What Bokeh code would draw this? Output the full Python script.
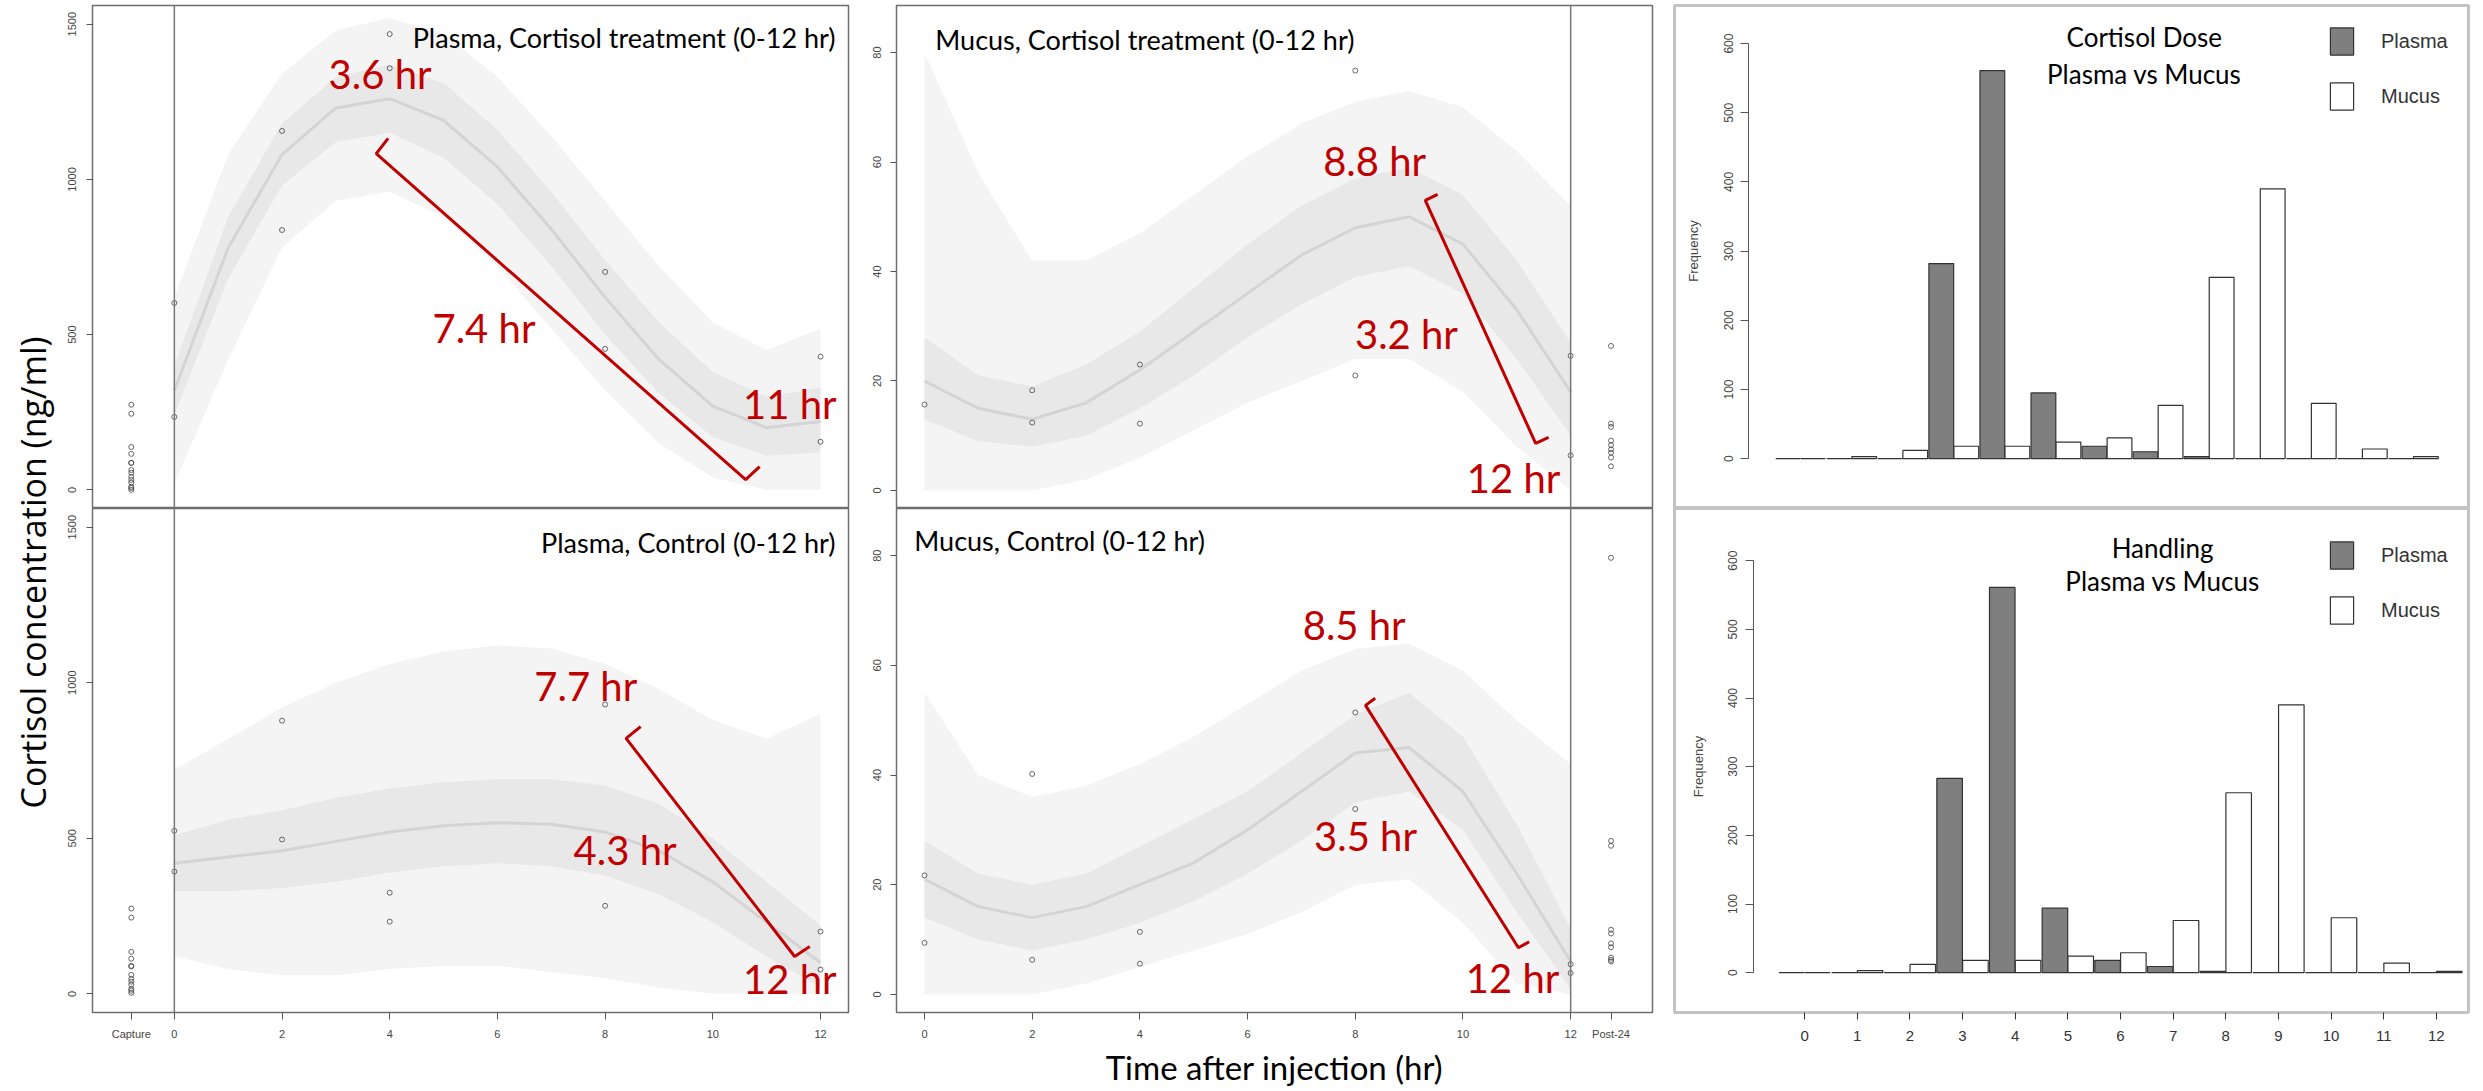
import numpy as np
from bokeh.plotting import figure
from bokeh.layouts import row, column
from bokeh.models import FixedTicker, Span, Title, Legend, LegendItem, Range1d
from bokeh.core.properties import value
from bokeh.embed import file_html
from bokeh.resources import INLINE

# ------------------------------------------------------------------ data
hours = [0, 1, 2, 3, 4, 5, 6, 7, 8, 9, 10, 11, 12]

# Plasma, cortisol treatment: cloud of fitted curves
pc_center = [320, 780, 1080, 1230, 1260, 1190, 1040, 840, 620, 420, 270, 200, 220]
pc_in_lo = [240, 680, 980, 1120, 1150, 1070, 920, 720, 500, 310, 170, 110, 120]
pc_in_hi = [400, 880, 1180, 1330, 1370, 1310, 1160, 960, 740, 540, 380, 300, 330]
pc_out_lo = [20, 420, 780, 930, 960, 880, 720, 520, 320, 150, 40, 0, 0]
pc_out_hi = [620, 1080, 1340, 1480, 1520, 1470, 1330, 1140, 930, 720, 540, 450, 520]

# Plasma, control
pk_center = [420, 440, 460, 490, 520, 540, 550, 545, 520, 460, 360, 230, 100]
pk_in_lo = [330, 330, 340, 360, 390, 410, 420, 410, 380, 320, 230, 120, 20]
pk_in_hi = [510, 560, 590, 630, 660, 680, 690, 690, 670, 610, 500, 360, 220]
pk_out_lo = [120, 80, 60, 60, 80, 90, 90, 70, 50, 20, 0, 0, 0]
pk_out_hi = [720, 820, 920, 1000, 1060, 1100, 1120, 1110, 1060, 980, 880, 820, 900]

# Mucus, cortisol treatment
mc_center = [20, 15, 13, 16, 22, 29, 36, 43, 48, 50, 45, 33, 18]
mc_in_lo = [13, 9, 8, 10, 15, 21, 28, 34, 39, 41, 36, 24, 10]
mc_in_hi = [28, 21, 19, 23, 29, 37, 45, 52, 57, 59, 54, 42, 27]
mc_out_lo = [0, 0, 0, 2, 6, 11, 16, 20, 24, 24, 18, 8, 0]
mc_out_hi = [80, 58, 42, 42, 47, 54, 61, 67, 71, 73, 70, 62, 52]

# Mucus, control
mk_center = [21, 16, 14, 16, 20, 24, 30, 37, 44, 45, 37, 22, 6]
mk_in_lo = [14, 10, 8, 10, 13, 17, 22, 28, 35, 37, 30, 15, 1]
mk_in_hi = [28, 22, 20, 22, 27, 32, 37, 44, 51, 55, 47, 31, 12]
mk_out_lo = [0, 0, 0, 2, 5, 8, 11, 15, 20, 21, 13, 2, 0]
mk_out_hi = [55, 40, 36, 38, 42, 47, 53, 59, 63, 64, 59, 50, 42]

# observed samples
capture_x = -0.8
post24_x = 12.75
pc_capture = [274, 245, 138, 116, 87, 87, 64, 55, 42, 32, 23, 10, 6, 0]
pc_t = [0, 0, 2, 2, 4, 4, 8, 8, 12, 12]
pc_obs = [602, 235, 1156, 837, 1468, 1358, 702, 454, 429, 155]
pk_capture = [274, 245, 135, 113, 90, 88, 61, 48, 39, 29, 16, 10, 3]
pk_t = [0, 0, 2, 2, 4, 4, 8, 8, 12, 12]
pk_obs = [524, 393, 878, 496, 325, 232, 930, 283, 200, 78]
mc_t = [0, 2, 2, 4, 4, 8, 8, 12, 12]
mc_obs = [15.7, 18.3, 12.4, 23.0, 12.2, 76.7, 21.0, 24.6, 6.4]
mc_post = [26.4, 12.2, 11.6, 9.1, 8.3, 7.5, 6.9, 6.0, 4.4]
mk_t = [0, 0, 2, 2, 4, 4, 8, 8, 12, 12]
mk_obs = [21.7, 9.4, 40.2, 6.3, 11.4, 5.6, 51.4, 33.8, 5.5, 3.9]
mk_post = [79.6, 28.0, 27.1, 11.8, 11.1, 9.3, 8.6, 6.7, 6.3, 6.0]

# axes
left_ticks = [-0.8, 0, 2, 4, 6, 8, 10, 12]
left_tick_labels = ["Capture", "0", "2", "4", "6", "8", "10", "12"]
mid_ticks = [0, 2, 4, 6, 8, 10, 12, 12.75]
mid_tick_labels = ["0", "2", "4", "6", "8", "10", "12", "Post-24"]
plasma_y_ticks = [0, 500, 1000, 1500]
mucus_y_ticks = [0, 20, 40, 60, 80]
freq_ticks = [0, 100, 200, 300, 400, 500, 600]

# histograms of peak / half-life times
hist_groups = [0, 1, 2, 3, 4, 5, 6, 7, 8, 9, 10, 11, 12]
dose_plasma = [0, 0, 0, 282, 561, 95, 18, 10, 3, 0, 0, 0, 0]
dose_mucus = [0, 3, 12, 18, 18, 24, 30, 77, 262, 390, 80, 14, 3]
hand_plasma = [0, 0, 0, 283, 561, 94, 18, 9, 2, 0, 0, 0, 0]
hand_mucus = [0, 3, 12, 18, 18, 24, 29, 76, 262, 390, 80, 14, 2]

# ------------------------------------------------------------------ styles
RED = "#c00000"
FRAME = "#6e6e6e"
CLOUD_OUT = "#f4f4f4"
CLOUD_IN = "#e8e8e8"
CLOUD_CORE = "#d4d4d4"
TXT_FONT = "Lato"
TICK_FONT = "Liberation Sans"


def panel(width, height, xr, yr, ml, mr, mt, mb, show_x):
    p = figure(width=width, height=height, x_range=Range1d(*xr), y_range=Range1d(*yr),
               output_backend="svg", toolbar_location=None, title=None,
               x_axis_location="below" if show_x else None, y_axis_location="left",
               min_border_left=ml, min_border_right=mr, min_border_top=mt, min_border_bottom=mb)
    p.grid.visible = False
    p.outline_line_color = FRAME
    p.outline_line_width = 1.5
    p.background_fill_color = "white"
    p.border_fill_color = "white"
    return p


def style_axis(ax, ticks, labels=None, size="11px", standoff=10, tick_out=6, vertical=False):
    ax.ticker = FixedTicker(ticks=ticks)
    if labels is not None:
        ax.major_label_overrides = {t: l for t, l in zip(ticks, labels)}
    if vertical:
        ax.major_label_orientation = "vertical"
    ax.axis_line_color = None
    ax.major_tick_line_color = "#555555"
    ax.major_tick_line_width = 1
    ax.major_tick_out = tick_out
    ax.major_tick_in = 0
    ax.minor_tick_line_color = None
    ax.major_label_text_font = TICK_FONT
    ax.major_label_text_font_size = size
    ax.major_label_text_color = "#444444"
    ax.major_label_standoff = standoff


def cloud(p, lo_o, hi_o, lo_i, hi_i, center):
    p.varea(x=hours, y1=lo_o, y2=hi_o, fill_color=CLOUD_OUT)
    p.varea(x=hours, y1=lo_i, y2=hi_i, fill_color=CLOUD_IN)
    p.line(x=hours, y=center, line_color=CLOUD_CORE, line_width=3)


def points(p, xs, ys):
    p.scatter(x=xs, y=ys, marker="circle", size=5, fill_color=None,
              line_color="#444444", line_width=0.8)


def bracket(p, xs, ys):
    p.line(x=xs, y=ys, line_color=RED, line_width=3)


def red_text(p, xs, ys, texts, size="40px"):
    p.text(x=xs, y=ys, text=texts, text_font=value(TXT_FONT), text_font_size=size,
           text_color=RED, text_align="center", text_baseline="middle")


def title_text(p, x, y, t, align):
    p.text(x=[x], y=[y], text=[t], text_font=value(TXT_FONT), text_font_size="27px",
           text_color="black", text_align=align, text_baseline="middle")


LEFT_X = (-1.52, 12.52)
LEFT_Y = (-60, 1560)
MID_X = (-0.52, 13.52)
MID_Y = (-3.3, 88.6)

# ------------------------------------------------------------------ A: plasma cortisol
pA = panel(805, 508, LEFT_X, LEFT_Y, 37, 12, 5, 0, False)
style_axis(pA.yaxis[0], plasma_y_ticks, vertical=True)
cloud(pA, pc_out_lo, pc_out_hi, pc_in_lo, pc_in_hi, pc_center)
pA.add_layout(Span(location=0, dimension="height", line_color="#777777", line_width=1.5))
points(pA, [capture_x] * len(pc_capture), pc_capture)
points(pA, pc_t, pc_obs)
bracket(pA, [3.97, 3.75, 10.61, 10.87], [1132, 1083, 33, 75])
red_text(pA, [3.82, 5.75, 11.43], [1338, 520, 278], ["3.6 hr", "7.4 hr", "11 hr"])
title_text(pA, 12.28, 1457, "Plasma, Cortisol treatment (0-12 hr)", "right")

# ------------------------------------------------------------------ B: plasma control
pB = panel(805, 583, LEFT_X, LEFT_Y, 37, 12, 0, 79, True)
style_axis(pB.yaxis[0], plasma_y_ticks, vertical=True)
style_axis(pB.xaxis[0], left_ticks, left_tick_labels, standoff=8, tick_out=7)
cloud(pB, pk_out_lo, pk_out_hi, pk_in_lo, pk_in_hi, pk_center)
pB.add_layout(Span(location=0, dimension="height", line_color="#777777", line_width=1.5))
points(pB, [capture_x] * len(pk_capture), pk_capture)
points(pB, pk_t, pk_obs)
bracket(pB, [8.66, 8.39, 11.52, 11.80], [859, 821, 120, 152])
red_text(pB, [7.64, 8.37, 11.43], [988, 461, 49], ["7.7 hr", "4.3 hr", "12 hr"])
title_text(pB, 12.28, 1451, "Plasma, Control (0-12 hr)", "right")

# ------------------------------------------------------------------ C: mucus cortisol
pC = panel(802, 508, MID_X, MID_Y, 36, 10, 5, 0, False)
style_axis(pC.yaxis[0], mucus_y_ticks, vertical=True, standoff=9)
cloud(pC, mc_out_lo, mc_out_hi, mc_in_lo, mc_in_hi, mc_center)
pC.add_layout(Span(location=12, dimension="height", line_color="#777777", line_width=1.5))
points(pC, mc_t, mc_obs)
points(pC, [post24_x] * len(mc_post), mc_post)
bracket(pC, [9.53, 9.30, 11.35, 11.59], [54.1, 53.0, 8.6, 9.7])
red_text(pC, [8.36, 8.95, 10.94], [60.1, 28.5, 2.2], ["8.8 hr", "3.2 hr", "12 hr"])
title_text(pC, 0.20, 82.4, "Mucus, Cortisol treatment (0-12 hr)", "left")

# ------------------------------------------------------------------ D: mucus control
pD = panel(802, 583, MID_X, MID_Y, 36, 10, 0, 79, True)
style_axis(pD.yaxis[0], mucus_y_ticks, vertical=True, standoff=9)
style_axis(pD.xaxis[0], mid_ticks, mid_tick_labels, standoff=8, tick_out=7)
cloud(pD, mk_out_lo, mk_out_hi, mk_in_lo, mk_in_hi, mk_center)
pD.add_layout(Span(location=12, dimension="height", line_color="#777777", line_width=1.5))
points(pD, mk_t, mk_obs)
points(pD, [post24_x] * len(mk_post), mk_post)
bracket(pD, [8.37, 8.19, 11.03, 11.23], [54.0, 52.7, 8.5, 9.6])
red_text(pD, [7.98, 8.19, 10.92], [67.3, 28.8, 2.9], ["8.5 hr", "3.5 hr", "12 hr"])
title_text(pD, -0.19, 82.8, "Mucus, Control (0-12 hr)", "left")
pD.add_layout(Title(text="Time after injection (hr)", align="center", offset=50,
                    text_font=TXT_FONT, text_font_size="33px", text_font_style="normal",
                    text_color="black", standoff=4), "below")

# ------------------------------------------------------------------ histograms
BAR_W = 0.485
BAR_OFF = 0.245


def hist(height, xr, yr, mt, mb, axis_x, show_x, plasma, mucus, titles, tx, tys, legend_y):
    p = figure(width=821, height=height, x_range=Range1d(*xr), y_range=Range1d(*yr),
               output_backend="svg", toolbar_location=None, title=None,
               x_axis_location="below" if show_x else None, y_axis_location="left",
               min_border_left=12, min_border_right=15, min_border_top=mt, min_border_bottom=mb)
    p.grid.visible = False
    p.outline_line_color = "#c3c3c3"
    p.outline_line_width = 3
    ax = p.yaxis[0]
    style_axis(ax, freq_ticks, vertical=True, size="12px", standoff=8, tick_out=8)
    ax.fixed_location = axis_x
    ax.bounds = (0, 600)
    ax.axis_line_color = "#555555"
    ax.axis_label = "Frequency"
    ax.axis_label_text_font = TICK_FONT
    ax.axis_label_text_font_size = "13px"
    ax.axis_label_text_font_style = "normal"
    ax.axis_label_text_color = "#444444"
    ax.axis_label_standoff = 20
    if show_x:
        style_axis(p.xaxis[0], hist_groups, size="15px", standoff=11, tick_out=7)
        p.xaxis[0].major_tick_line_color = "#333333"
        p.xaxis[0].major_label_text_color = "#333333"
    g = np.array(hist_groups, dtype=float)
    rp = p.vbar(x=g - BAR_OFF, top=plasma, bottom=0, width=BAR_W, fill_color="#7f7f7f",
                line_color="#333333", line_width=1.2)
    rm = p.vbar(x=g + BAR_OFF, top=mucus, bottom=0, width=BAR_W, fill_color="white",
                line_color="#333333", line_width=1.2)
    p.text(x=[tx] * len(titles), y=tys, text=titles, text_font=value(TXT_FONT),
           text_font_size="26px", text_color="black", text_align="center",
           text_baseline="middle")
    leg = Legend(items=[LegendItem(label="Plasma", renderers=[rp]),
                        LegendItem(label="Mucus", renderers=[rm])],
                 location=(653, legend_y), glyph_width=29, glyph_height=34, spacing=21,
                 label_standoff=25, padding=0, margin=0, border_line_color=None,
                 background_fill_alpha=0, label_text_font=TICK_FONT,
                 label_text_font_size="20px", label_text_color="#333333")
    p.add_layout(leg)
    return p


pE = hist(508, (-2.47, 13.08), (-72, 655), 5, 0, -1.02, False, dose_plasma, dose_mucus,
          ["Cortisol Dose", "Plasma vs Mucus"], 6.73, [608.8, 556.7], 395)
pF = hist(583, (-2.47, 12.61), (-58, 676), 0, 79, -0.97, True, hand_plasma, hand_mucus,
          ["Handling", "Plasma vs Mucus"], 6.80, [619.2, 569.7], 385)

# ------------------------------------------------------------------ shared y label strip
strip = figure(width=55, height=1091, x_range=Range1d(0, 55), y_range=Range1d(0, 1091),
               output_backend="svg", toolbar_location=None, title=None,
               x_axis_location=None, y_axis_location=None,
               min_border_left=0, min_border_right=0, min_border_top=0, min_border_bottom=0)
strip.grid.visible = False
strip.outline_line_color = None
strip.text(x=[32], y=[519], text=["Cortisol concentration (ng/ml)"], angle=np.pi / 2,
           text_font=value("Open Sans"), text_font_size="34px", text_color="black",
           text_align="center", text_baseline="middle")

layout = row(strip, column(pA, pB), column(pC, pD), column(pE, pF))

open("out.html", "w").write(file_html(layout, INLINE))
